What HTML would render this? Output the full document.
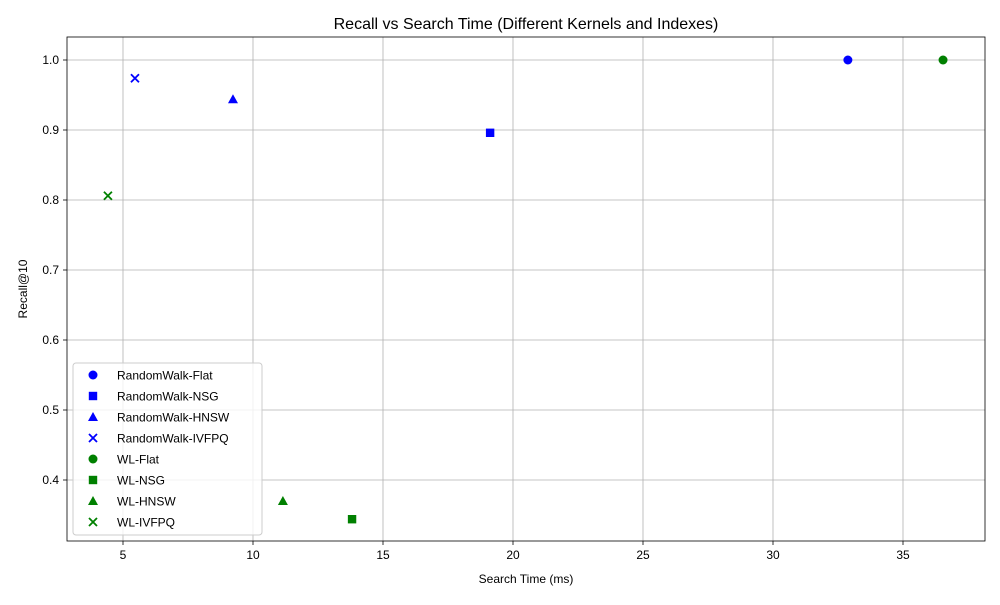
<!DOCTYPE html>
<html><head><meta charset="utf-8"><style>
body{margin:0;background:#fff;font-family:"Liberation Sans",sans-serif;}
svg text{font-family:"Liberation Sans",sans-serif;fill:#000}
</style></head><body>
<svg id="chart" width="1000" height="600">
<rect x="0" y="0" width="1000" height="600" fill="#fff"/>
<text x="526" y="29" font-size="16" text-anchor="middle">Recall vs Search Time (Different Kernels and Indexes)</text>
<g id="grid"></g>
<g id="ticks"></g>
<rect x="67" y="37" width="918" height="504" fill="none" stroke="#000" stroke-width="0.8"/>
<g id="marks"></g>
<text x="526" y="583" font-size="12" text-anchor="middle">Search Time (ms)</text>
<text transform="translate(27,289) rotate(-90)" font-size="12" text-anchor="middle">Recall@10</text>
<g id="legend"></g>
</svg>
<script>
const seriesNames=["RandomWalk-Flat","RandomWalk-NSG","RandomWalk-HNSW","RandomWalk-IVFPQ","WL-Flat","WL-NSG","WL-HNSW","WL-IVFPQ"];
const searchTimes=[32.88,19.12,9.23,5.46,36.54,13.81,11.15,4.42];
const recalls=[1.0,0.896,0.944,0.974,1.0,0.344,0.37,0.806];
const seriesColors=["blue","blue","blue","blue","green","green","green","green"];
const seriesMarkers=["o","s","^","x","o","s","^","x"];
const xTicks=[5,10,15,20,25,30,35];
const yTicks=[0.4,0.5,0.6,0.7,0.8,0.9,1.0];
const xs=v=>123+(v-5)*26;
const ys=v=>60+(1-v)*700;
const NS="http://www.w3.org/2000/svg";
function mk(tag,attrs,parent){const e=document.createElementNS(NS,tag);for(const k in attrs)e.setAttribute(k,attrs[k]);parent.appendChild(e);return e;}
const grid=document.getElementById('grid'),ticks=document.getElementById('ticks'),marks=document.getElementById('marks'),legend=document.getElementById('legend');
xTicks.forEach(t=>{const x=xs(t);
const g=mk('line',{x1:x,x2:x,y1:37,y2:541,stroke:'#b0b0b0','stroke-width':0.8},grid);


mk('line',{x1:x,x2:x,y1:541,y2:545,stroke:'#000','stroke-width':0.8},ticks);
const l=mk('text',{x:x,y:559,'font-size':12,'text-anchor':'middle'},ticks);l.textContent=t;

});
yTicks.forEach(t=>{const y=ys(t);
const g=mk('line',{x1:67,x2:985,y1:y,y2:y,stroke:'#b0b0b0','stroke-width':0.8},grid);


mk('line',{x1:63,x2:67,y1:y,y2:y,stroke:'#000','stroke-width':0.8},ticks);
const l=mk('text',{x:59,y:y+4,'font-size':12,'text-anchor':'end'},ticks);l.textContent=t.toFixed(1);

});
function marker(m,x,y,c,parent){
if(m==='o')return mk('circle',{cx:x,cy:y,r:4.5,fill:c},parent);
if(m==='s')return mk('rect',{x:x-4.2,y:y-4.2,width:8.4,height:8.4,fill:c},parent);
if(m==='^')return mk('polygon',{points:`${x},${y-5} ${x-5},${y+4} ${x+5},${y+4}`,fill:c},parent);
return mk('path',{d:`M${x-4},${y-4}L${x+4},${y+4}M${x-4},${y+4}L${x+4},${y-4}`,stroke:c,'stroke-width':1.8},parent);}
seriesNames.forEach((n,i)=>{
const p=marker(seriesMarkers[i],xs(searchTimes[i]),ys(recalls[i]),seriesColors[i],marks);

});
const box=mk('rect',{x:73,y:363,width:189,height:172,fill:'#fff','fill-opacity':0.8,stroke:'#ccc',rx:3},legend);


seriesNames.forEach((n,i)=>{const y=375+i*21;
const g=mk('g',{},legend);


marker(seriesMarkers[i],93,y,seriesColors[i],g);
const t=mk('text',{x:117,y:y+4.5,'font-size':12},g);t.textContent=n;});
</script>
</body></html>
